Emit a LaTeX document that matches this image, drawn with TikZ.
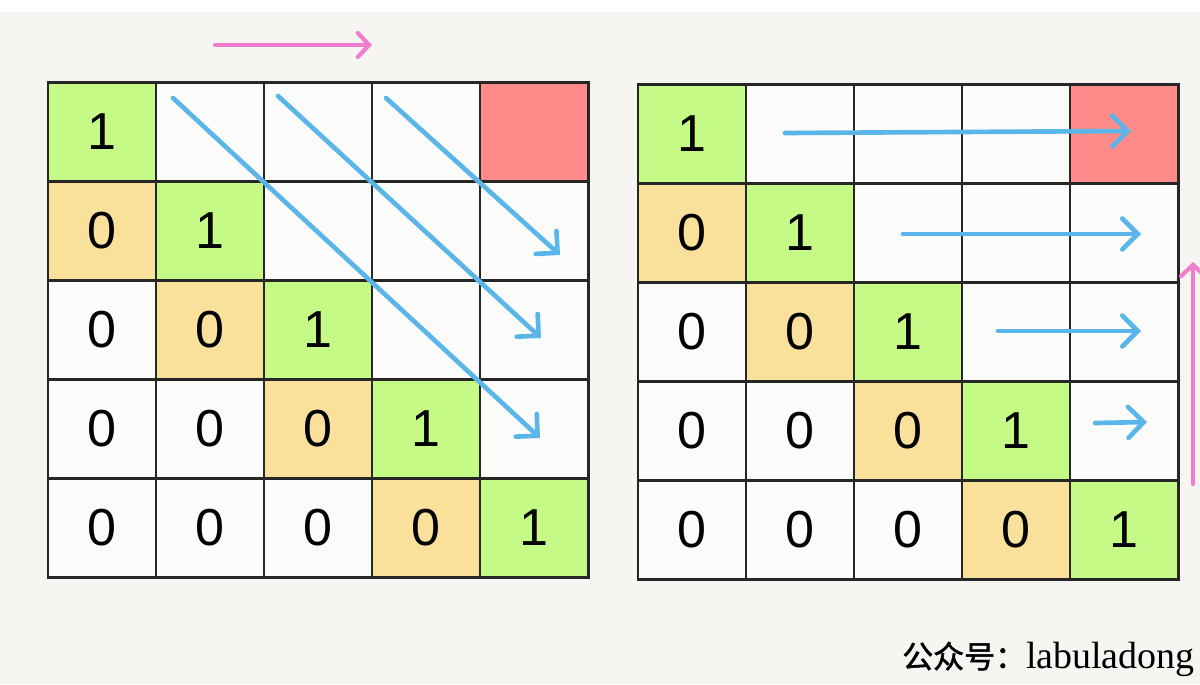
\documentclass[tikz,border=0pt]{standalone}
\usepackage{fontspec}
\newfontfamily\numfont{Liberation Sans}
\newfontfamily\wmfont{Liberation Serif}
\newfontfamily\cjk{Noto Sans CJK SC}[FakeBold=1.5]
\usetikzlibrary{arrows.meta}
\definecolor{paper}{HTML}{F6F5F2}
\definecolor{cgreen}{HTML}{C6FA86}
\definecolor{corange}{HTML}{F9E09B}
\definecolor{cred}{HTML}{FE8B8A}
\definecolor{cblue}{HTML}{5AB6E8}
\definecolor{cpink}{HTML}{F07ECF}

\begin{document}
\begin{tikzpicture}[x=.025cm,y=-.025cm,
  c/.style={draw=black!85,line width=2.1pt,fill=white!60!paper,minimum width=2.7cm,minimum height=2.48cm,inner sep=0,font=\numfont\fontsize{37}{37}\selectfont},
  gn/.style={c,fill=cgreen},
  og/.style={c,fill=corange},
  rd/.style={c,fill=cred},
  run/.style={cblue,line width=3.3pt,line cap=round,-{Straight Barb[length=11pt,width=22pt,line cap=round]}},
  dir/.style={cpink,line width=3pt,line cap=round,-{Straight Barb[length=8pt,width=17pt,line cap=round]}}]
  \fill[white] (0,0) rectangle (1200,684);
  \fill[paper] (0,12) rectangle (1200,684);
  \useasboundingbox (0,0) rectangle (1200,684);
  % left table
  \node[gn] (L00) at (102,132) {1};\node[c] (L01) at (210,132) {};\node[c] (L02) at (318,132) {};\node[c] (L03) at (426,132) {};\node[rd] (L04) at (534,132) {};
  \node[og] (L10) at (102,231) {0};\node[gn] (L11) at (210,231) {1};\node[c] (L12) at (318,231) {};\node[c] (L13) at (426,231) {};\node[c] (L14) at (534,231) {};
  \node[c] (L20) at (102,330) {0};\node[og] (L21) at (210,330) {0};\node[gn] (L22) at (318,330) {1};\node[c] (L23) at (426,330) {};\node[c] (L24) at (534,330) {};
  \node[c] (L30) at (102,429) {0};\node[c] (L31) at (210,429) {0};\node[og] (L32) at (318,429) {0};\node[gn] (L33) at (426,429) {1};\node[c] (L34) at (534,429) {};
  \node[c] (L40) at (102,528) {0};\node[c] (L41) at (210,528) {0};\node[c] (L42) at (318,528) {0};\node[og] (L43) at (426,528) {0};\node[gn] (L44) at (534,528) {1};
  % right table
  \node[gn] (R00) at (692,134) {1};\node[c] (R01) at (800,134) {};\node[c] (R02) at (908,134) {};\node[c] (R03) at (1016,134) {};\node[rd] (R04) at (1124,134) {};
  \node[og] (R10) at (692,233) {0};\node[gn] (R11) at (800,233) {1};\node[c] (R12) at (908,233) {};\node[c] (R13) at (1016,233) {};\node[c] (R14) at (1124,233) {};
  \node[c] (R20) at (692,332) {0};\node[og] (R21) at (800,332) {0};\node[gn] (R22) at (908,332) {1};\node[c] (R23) at (1016,332) {};\node[c] (R24) at (1124,332) {};
  \node[c] (R30) at (692,431) {0};\node[c] (R31) at (800,431) {0};\node[og] (R32) at (908,431) {0};\node[gn] (R33) at (1016,431) {1};\node[c] (R34) at (1124,431) {};
  \node[c] (R40) at (692,530) {0};\node[c] (R41) at (800,530) {0};\node[c] (R42) at (908,530) {0};\node[og] (R43) at (1016,530) {0};\node[gn] (R44) at (1124,530) {1};
  % diagonal sweeps
  \coordinate (da1) at (173,98);\coordinate (db1) at (540,438);
  \coordinate (da2) at (278,96);\coordinate (db2) at (541,338);
  \coordinate (da3) at (386,98);\coordinate (db3) at (560,255);
  \draw[run] (da1)--(db1);\draw[run] (da2)--(db2);\draw[run] (da3)--(db3);
  % row sweeps
  \coordinate (ra0) at (785,133);\coordinate (rb0) at (1131,131);
  \coordinate (ra1) at (903,234);\coordinate (rb1) at (1141,234);
  \coordinate (ra2) at (998,331);\coordinate (rb2) at (1141,331);
  \coordinate (ra3) at (1095,423);\coordinate (rb3) at (1147,422);
  \draw[run] (ra0)--(rb0);\draw[run] (ra1)--(rb1);\draw[run] (ra2)--(rb2);\draw[run] (ra3)--(rb3);
  % order arrows
  \coordinate (pa) at (215,45);\coordinate (pb) at (372,45);
  \coordinate (qa) at (1193,484);\coordinate (qb) at (1193,262);
  \draw[dir] (pa)--(pb);\draw[dir] (qa)--(qb);
  \node[anchor=base east,inner sep=0] (wm) at (1195,668) {{\cjk\fontsize{22}{22}\selectfont 公众号：}{\wmfont\fontsize{27}{27}\selectfont labuladong}};
\end{tikzpicture}
\end{document}
